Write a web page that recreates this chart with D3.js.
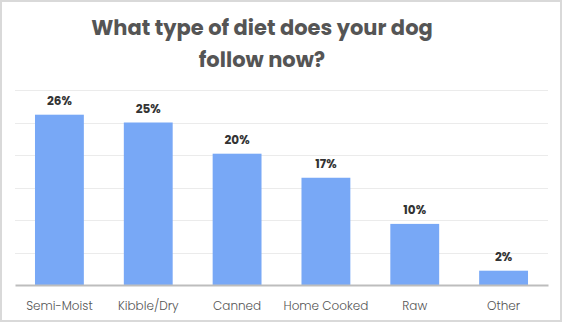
<!DOCTYPE html>
<html>
<head>
<meta charset="utf-8">
<script src="https://cdn.jsdelivr.net/npm/d3@7"></script>
<style>
  html, body { margin: 0; padding: 0; background: #fff; }
  svg { display: block; }
</style>
</head>
<body>
<svg id="chart" width="562" height="322"></svg>
<script>
const categories = ["Semi-Moist", "Kibble/Dry", "Canned", "Home Cooked", "Raw", "Other"];
const values = [26.2, 25.0, 20.2, 16.5, 9.4, 2.2];
const valueLabels = ["26%", "25%", "20%", "17%", "10%", "2%"];
const gridTicks = [0, 5, 10, 15, 20, 25, 30];
const titleLines = ["What type of diet does your dog", "follow now?"];

const W = 562, H = 322;
const margin = { top: 90, right: 14, bottom: 37, left: 15 };
const svg = d3.select("#chart");

svg.append("rect")
  .attr("x", 1).attr("y", 1).attr("width", W - 2).attr("height", H - 2)
  .attr("fill", "#fff").attr("stroke", "#d9d9d9").attr("stroke-width", 2);

const x = d3.scaleBand().domain(categories)
  .range([margin.left, W - margin.right]).paddingInner(0.45).paddingOuter(0.225);
const y = d3.scaleLinear().domain([0, 30]).range([H - margin.bottom, margin.top]);

// gridlines
const grid = svg.append("g");
grid.selectAll("line").data(gridTicks.filter(d => d > 0)).join("line")
  .attr("x1", margin.left).attr("x2", W - margin.right)
  .attr("y1", d => Math.round(y(d)) + 0.5).attr("y2", d => Math.round(y(d)) + 0.5)
  .attr("stroke", "#ebebeb").attr("stroke-width", 1);

// bars
svg.append("g").selectAll("rect").data(categories).join("rect")
  .attr("x", d => x(d))
  .attr("width", x.bandwidth())
  .attr("y", (d, i) => y(values[i]))
  .attr("height", (d, i) => y(0) - y(values[i]))
  .attr("fill", "#78a8f6");

// baseline axis
const xAxis = d3.axisBottom(x).tickSize(0).tickPadding(16);
const ax = svg.append("g").attr("transform", `translate(0,${y(0)})`).call(xAxis);
ax.select(".domain").attr("stroke", "#bdbdbd").attr("stroke-width", 2);
ax.selectAll("text")
  .attr("font-family", "Poppins, 'Open Sans', sans-serif")
  .attr("font-size", 12).attr("font-weight", 300).attr("fill", "#555");

// value labels
svg.append("g").selectAll("text").data(categories).join("text")
  .attr("x", d => x(d) + x.bandwidth() / 2)
  .attr("y", (d, i) => y(values[i]) - 10)
  .attr("text-anchor", "middle")
  .attr("font-family", "Poppins, 'Open Sans', sans-serif")
  .attr("font-size", 12).attr("font-weight", 700).attr("fill", "#333")
  .text((d, i) => valueLabels[i]);

// title
svg.append("g").selectAll("text").data(titleLines).join("text")
  .attr("x", 262)
  .attr("y", (d, i) => 35 + i * 32)
  .attr("text-anchor", "middle")
  .attr("font-family", "Poppins, 'DejaVu Sans', sans-serif")
  .attr("font-size", 21).attr("font-weight", 700).attr("fill", "#555")
  .text(d => d);
</script>
</body>
</html>
